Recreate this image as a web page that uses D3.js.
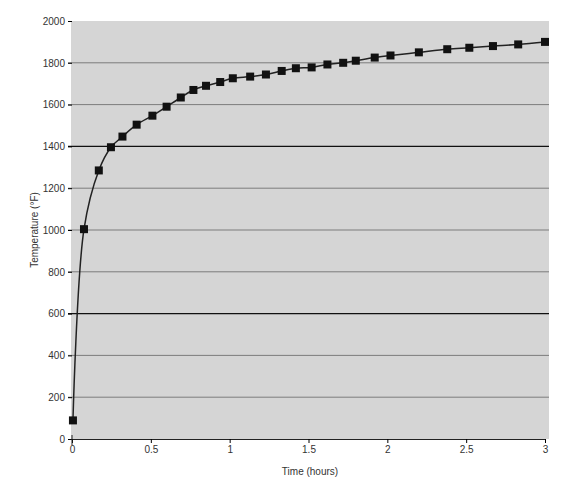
<!DOCTYPE html><html><head><meta charset="utf-8"><script src="https://cdn.jsdelivr.net/npm/d3@7"></script>
<style>body{margin:0;background:#fff}text{font-family:"Liberation Sans",Arial,sans-serif}</style></head><body><svg id="c" width="566" height="487"></svg><script>
const times=[0.006,0.076,0.17,0.247,0.32,0.41,0.51,0.6,0.69,0.77,0.85,0.94,1.02,1.13,1.23,1.33,1.42,1.52,1.62,1.72,1.8,1.92,2.02,2.2,2.38,2.52,2.67,2.83,3.0];
const temps=[89,1004,1285,1396,1447,1504,1547,1590,1634,1670,1690,1708,1726,1734,1744,1761,1774,1778,1792,1800,1810,1825,1835,1850,1865,1872,1880,1888,1900];
const xTicks=[0,0.5,1,1.5,2,2.5,3];
const yTicks=[0,200,400,600,800,1000,1200,1400,1600,1800,2000];
const gridDark=[600,1400];
const svg=d3.select("#c");
const x=d3.scaleLinear().domain([0,3]).range([72,545]);
const y=d3.scaleLinear().domain([0,2000]).range([439,21]);
svg.append("rect").attr("x",71).attr("y",21).attr("width",478).attr("height",418).attr("fill","#d5d5d5");
svg.selectAll(".g").data(yTicks.filter(d=>d>0&&d<2000)).join("line").attr("x1",68).attr("x2",549).attr("y1",d=>y(d)).attr("y2",d=>y(d)).attr("stroke",d=>gridDark.includes(d)?"#111":"#666").attr("stroke-width",d=>gridDark.includes(d)?1.2:0.8);
const ya=svg.append("g").attr("transform","translate(72,0)").call(d3.axisLeft(y).tickValues(yTicks).tickSize(4).tickFormat(d3.format("d")));
ya.select(".domain").remove();ya.selectAll("text").attr("font-size",10).attr("fill","#333");
const xa=svg.append("g").attr("transform","translate(0,439)").call(d3.axisBottom(x).tickValues(xTicks).tickSize(4).tickFormat(d=>String(d)));
xa.selectAll("text").attr("font-size",10).attr("fill","#333");xa.select(".domain").attr("stroke","#222");
svg.append("line").attr("x1",72).attr("x2",72).attr("y1",435).attr("y2",445).attr("stroke","#222");
const pts=times.map((t,i)=>[t,temps[i]]);
svg.append("path").datum(pts).attr("fill","none").attr("stroke","#222").attr("stroke-width",1.5).attr("d",d3.line().x(d=>x(d[0])).y(d=>y(d[1])).curve(d3.curveCatmullRom.alpha(0.5)));
svg.selectAll(".p").data(pts).join("rect").attr("x",d=>x(d[0])-4).attr("y",d=>y(d[1])-4).attr("width",8).attr("height",8).attr("fill","#111");
svg.append("text").attr("transform","translate(38,230) rotate(-90)").attr("text-anchor","middle").attr("font-size",10).attr("fill","#333").text("Temperature (°F)");
svg.append("text").attr("x",310).attr("y",475).attr("text-anchor","middle").attr("font-size",10).attr("fill","#333").text("Time (hours)");
</script></body></html>
